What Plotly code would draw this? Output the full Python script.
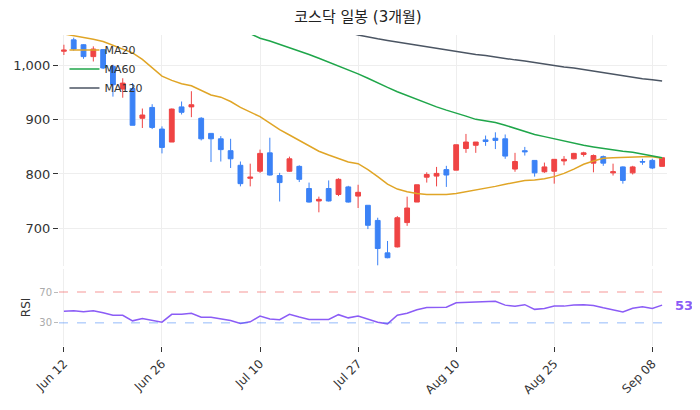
import plotly.graph_objects as go
from plotly.subplots import make_subplots

# trading days (category axis, 62 sessions)
dates = [
    "2023-06-12", "2023-06-13", "2023-06-14", "2023-06-15", "2023-06-16",
    "2023-06-19", "2023-06-20", "2023-06-21", "2023-06-22", "2023-06-23",
    "2023-06-26", "2023-06-27", "2023-06-28", "2023-06-29", "2023-06-30",
    "2023-07-03", "2023-07-04", "2023-07-05", "2023-07-06", "2023-07-07",
    "2023-07-10", "2023-07-11", "2023-07-12", "2023-07-13", "2023-07-14",
    "2023-07-20", "2023-07-21", "2023-07-24", "2023-07-25", "2023-07-26",
    "2023-07-27", "2023-07-28", "2023-07-31", "2023-08-01", "2023-08-02",
    "2023-08-03", "2023-08-04", "2023-08-07", "2023-08-08", "2023-08-09",
    "2023-08-10", "2023-08-11", "2023-08-14", "2023-08-16", "2023-08-17",
    "2023-08-18", "2023-08-21", "2023-08-22", "2023-08-23", "2023-08-24",
    "2023-08-25", "2023-08-28", "2023-08-29", "2023-08-30", "2023-08-31",
    "2023-09-01", "2023-09-04", "2023-09-05", "2023-09-06", "2023-09-07",
    "2023-09-08", "2023-09-11",
]

open_ = [1027, 1048, 1039, 1017, 1030, 999, 957, 958, 903, 923,
         883, 859, 924, 924, 903, 875, 865, 843, 816, 792,
         805, 839, 797, 805, 814, 773, 750, 773, 762, 776,
         759, 742, 714, 654, 665, 710, 748, 794, 796, 808,
         807, 847, 853, 863, 866, 865, 809, 843, 825, 804,
         805, 824, 828, 836, 820, 832, 802, 813, 802, 823,
         825, 814]
high = [1039, 1052, 1040, 1036, 1031, 1002, 977, 968, 921, 929,
        888, 921, 934, 953, 905, 875, 870, 865, 823, 819,
        845, 867, 802, 832, 816, 784, 758, 788, 792, 778,
        780, 742, 719, 676, 722, 758, 780, 803, 813, 815,
        854, 874, 859, 871, 877, 873, 839, 850, 825, 821,
        827, 833, 839, 841, 836, 834, 819, 814, 815, 828,
        828, 830]
low = [1020, 1028, 1013, 1008, 994, 943, 941, 890, 885, 883,
       838, 859, 910, 905, 862, 822, 823, 811, 777, 777,
       802, 797, 749, 804, 785, 747, 729, 749, 759, 747,
       737, 698, 631, 644, 664, 704, 748, 784, 777, 776,
       807, 839, 839, 852, 846, 828, 804, 834, 795, 802,
       782, 816, 827, 832, 803, 815, 797, 782, 799, 817,
       809, 814]
close = [1029, 1031, 1017, 1031, 996, 965, 968, 890, 909, 886,
         849, 920, 914, 928, 865, 865, 845, 828, 782, 794,
         838, 798, 784, 828, 790, 748, 753, 750, 790, 748,
         766, 705, 662, 645, 719, 737, 780, 799, 801, 798,
         854, 859, 859, 860, 862, 833, 823, 841, 802, 813,
         827, 827, 838, 839, 834, 820, 804, 788, 813, 822,
         811, 830]

ma20 = [1059, 1056, 1052, 1049, 1045, 1038, 1031, 1024, 1012, 997,
        981, 973, 967, 963, 955, 946, 942, 934, 923, 914,
        906, 894, 882, 872, 862, 852, 842, 835, 829, 822,
        819, 808, 795, 781, 772, 767, 764, 762, 762, 762,
        764, 767, 771, 773, 777, 781, 785, 788, 789, 791,
        795, 801, 809, 818, 824, 829, 830, 831, 831, 832,
        832, 829]
ma60 = [1150, 1146, 1141, 1137, 1132, 1128, 1123, 1118, 1113, 1108,
        1103, 1098, 1094, 1090, 1086, 1082, 1077, 1073, 1068, 1060,
        1051, 1046, 1040, 1034, 1028, 1021, 1014, 1007, 1000, 993,
        985, 977, 968, 960, 952, 945, 938, 930, 924, 918,
        913, 907, 901, 898, 895, 890, 884, 879, 873, 869,
        865, 860, 857, 853, 850, 847, 844, 842, 840, 837,
        834, 830]
ma120 = [1140, 1137, 1134, 1131, 1128, 1125, 1122, 1119, 1116, 1113,
         1110, 1107, 1104, 1101, 1098, 1095, 1092, 1089, 1086, 1083,
         1080, 1078, 1076, 1074, 1072, 1070, 1068, 1066, 1064, 1062,
         1057, 1053, 1050, 1047, 1044, 1041, 1038, 1035, 1032, 1029,
         1026, 1024, 1021, 1019, 1016, 1014, 1011, 1009, 1006, 1003,
         1000, 998, 996, 993, 990, 987, 984, 981, 978, 976,
         974, 972]

rsi = [44.9, 45.7, 44.5, 45.7, 43.0, 39.8, 39.8, 32.6, 35.5, 33.5,
       30.9, 41.1, 41.1, 42.3, 37.2, 37.2, 35.5, 33.0, 29.1, 31.3,
       38.9, 35.0, 34.0, 41.0, 37.5, 34.3, 34.3, 34.3, 40.6, 36.5,
       39.0, 34.5, 30.8, 28.7, 40.0, 42.5, 47.0, 50.0, 50.4, 50.2,
       56.0, 56.6, 56.8, 57.4, 58.0, 53.0, 51.5, 53.6, 47.5, 48.7,
       51.7, 51.7, 53.2, 53.4, 52.6, 49.5, 46.5, 44.0, 49.0, 51.0,
       48.7, 53.0]

tick_dates = ["2023-06-12", "2023-06-26", "2023-07-10", "2023-07-27",
              "2023-08-10", "2023-08-25", "2023-09-08"]
tick_text = ["Jun 12", "Jun 26", "Jul 10", "Jul 27", "Aug 10", "Aug 25", "Sep 08"]

UP = "#ef4444"
DOWN = "#3b82f6"
FONT = "DejaVu Sans, Noto Sans CJK KR, sans-serif"

fig = make_subplots(rows=2, cols=1, shared_xaxes=True,
                    row_heights=[0.75, 0.25], vertical_spacing=0.008)

fig.add_trace(go.Candlestick(
    x=dates, open=open_, high=high, low=low, close=close,
    increasing=dict(line=dict(color=UP, width=1), fillcolor=UP),
    decreasing=dict(line=dict(color=DOWN, width=1), fillcolor=DOWN),
    showlegend=False, name="KOSDAQ"), row=1, col=1)

fig.add_trace(go.Scatter(x=dates, y=ma20, mode="lines", name="MA20",
                         line=dict(color="#e0a526", width=1.5)), row=1, col=1)
fig.add_trace(go.Scatter(x=dates, y=ma60, mode="lines", name="MA60",
                         line=dict(color="#1fa64a", width=1.5)), row=1, col=1)
fig.add_trace(go.Scatter(x=dates, y=ma120, mode="lines", name="MA120",
                         line=dict(color="#4b5563", width=1.5)), row=1, col=1)

fig.add_trace(go.Scatter(x=dates, y=rsi, mode="lines", name="RSI", showlegend=False,
                         line=dict(color="#8b5cf6", width=1.5)), row=2, col=1)

fig.add_hline(y=70, line=dict(color="rgba(239,68,68,0.55)", width=1, dash="dash"), row=2, col=1)
fig.add_hline(y=30, line=dict(color="rgba(59,130,246,0.55)", width=1, dash="dash"), row=2, col=1)

fig.add_annotation(x=1.01, xref="paper", xanchor="left", y=rsi[-1], yref="y2",
                   text="<b>%d</b>" % round(rsi[-1]), showarrow=False,
                   font=dict(color="#8b5cf6", size=13))

# the page adds an 8px body margin, so margins are set 8px smaller on top/left
fig.update_layout(
    width=700, height=410,
    margin=dict(l=51, r=41, t=27, b=72, autoexpand=False),
    paper_bgcolor="white", plot_bgcolor="white",
    font=dict(family=FONT, color="#333"),
    title=dict(text="코스닥 일봉 (3개월)", x=0.5, xanchor="center",
               y=0.978, yref="container", yanchor="middle", automargin=False,
               font=dict(size=15, color="#222")),
    legend=dict(x=0.009, y=0.998, xanchor="left", yanchor="top",
                bgcolor="rgba(255,255,255,0)", font=dict(size=11),
                itemwidth=30, tracegroupgap=0),
    showlegend=True,
)

fig.update_xaxes(type="category", rangeslider_visible=False, automargin=False,
                 showgrid=True, gridcolor="#eeeeee",
                 tickvals=tick_dates, ticktext=tick_text,
                 range=[-0.5, len(dates) - 0.5])
fig.update_xaxes(showticklabels=False, ticks="", row=1, col=1)
fig.update_xaxes(ticks="outside", ticklen=5, tickcolor="#333", tickangle=-45,
                 tickfont=dict(size=12, color="#333"), row=2, col=1)

fig.update_yaxes(automargin=False)
fig.update_yaxes(range=[629, 1057], tickvals=[700, 800, 900, 1000],
                 tickformat=",", ticks="outside", ticklen=5, tickcolor="#333",
                 tickfont=dict(size=13, color="#333"),
                 showgrid=True, gridcolor="#eeeeee", zeroline=False, row=1, col=1)
fig.update_yaxes(range=[0, 100], tickvals=[30, 70], ticks="outside", ticklen=4,
                 tickcolor="#bbb", tickfont=dict(size=10, color="#aaa"),
                 showgrid=False, zeroline=False,
                 title=dict(text="RSI", font=dict(size=12, color="#333"), standoff=6),
                 row=2, col=1)

fig.write_html("out.html")
